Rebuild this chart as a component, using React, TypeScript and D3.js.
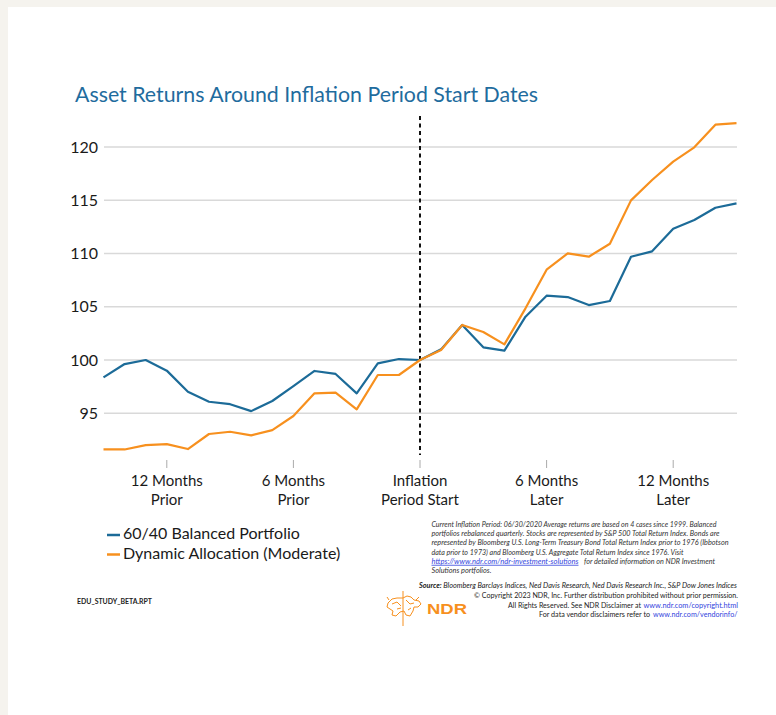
import React from "react";
import * as d3 from "d3";

const months = [-15, -14, -13, -12, -11, -10, -9, -8, -7, -6, -5, -4, -3, -2, -1, 0, 1, 2, 3, 4, 5, 6, 7, 8, 9, 10, 11, 12, 13, 14, 15];
const balanced = [98.37, 99.62, 100.0, 99.0, 97.02, 96.08, 95.85, 95.2, 96.15, 97.55, 98.97, 98.69, 96.87, 99.69, 100.09, 100.0, 101.0, 103.29, 101.19, 100.88, 104.07, 106.04, 105.91, 105.16, 105.54, 109.7, 110.2, 112.33, 113.14, 114.3, 114.7];
const dynamic = [91.6, 91.6, 92.0, 92.1, 91.64, 93.05, 93.26, 92.92, 93.42, 94.74, 96.87, 96.93, 95.37, 98.59, 98.59, 100.0, 100.94, 103.29, 102.63, 101.47, 104.85, 108.48, 110.01, 109.7, 110.92, 114.99, 116.9, 118.62, 119.97, 122.1, 122.25];
const yTicks = [95, 100, 105, 110, 115, 120];
const xTickMonths = [-12, -6, 0, 6, 12];
const xTickLabels = [["12 Months", "Prior"], ["6 Months", "Prior"], ["Inflation", "Period Start"], ["6 Months", "Later"], ["12 Months", "Later"]];
const seriesNames = ["60/40 Balanced Portfolio", "Dynamic Allocation (Moderate)"];
const title = "Asset Returns Around Inflation Period Start Dates";
const notes = [
  "Current Inflation Period: 06/30/2020 Average returns are based on 4 cases since 1999. Balanced",
  "portfolios rebalanced quarterly. Stocks are represented by S&P 500 Total Return Index. Bonds are",
  "represented by Bloomberg U.S. Long-Term Treasury Bond Total Return Index prior to 1976 (Ibbotson",
  "data prior to 1973) and Bloomberg U.S. Aggregate Total Return Index since 1976. Visit",
];
const noteLink = "https://www.ndr.com/ndr-investment-solutions";
const noteLinkRest = "for detailed information on NDR Investment";
const noteLast = "Solutions portfolios.";

const BLUE = "#1c6b98";
const ORANGE = "#f7901e";
const LINK = "#3344dd";
const FONT = "Lato, 'Open Sans', sans-serif";

export default function App() {
  const W = 776, H = 715;
  const x = d3.scaleLinear().domain([-15, 15]).range([103.5, 736.5]);
  const y = d3.scaleLinear().domain([91, 123]).range([455.85, 115.05]);
  const line = d3.line<number>().x((_, i) => x(months[i])).y((d) => y(d));
  const noteW = [285, 288, 297, 252];
  return (
    <svg width={W} height={H} style={{ position: "absolute", left: 0, top: 0 }} fontFamily={FONT}>
      <rect x={0} y={0} width={W} height={H} fill="#f5f3ee" />
      <rect x={8} y={7} width={W - 8} height={H - 7} fill="#ffffff" />
      <text x={75} y={101.5} fontSize={22} fill="#1f6c9e" textLength={463} lengthAdjust="spacingAndGlyphs">{title}</text>
      {yTicks.map((t) => (
        <g key={t}>
          <line x1={104} x2={737} y1={y(t)} y2={y(t)} stroke="#d9d9d9" strokeWidth={1.3} />
          <text x={98} y={y(t) + 5.5} fontSize={16} textAnchor="end" fill="#1a1a1a">{t}</text>
        </g>
      ))}
      {xTickMonths.map((m, i) => (
        <g key={m}>
          <line x1={x(m)} x2={x(m)} y1={460} y2={468} stroke="#aaaaaa" strokeWidth={1} />
          <text x={x(m)} y={486} fontSize={15} textAnchor="middle" fill="#1a1a1a">{xTickLabels[i][0]}</text>
          <text x={x(m)} y={504.5} fontSize={15} textAnchor="middle" fill="#1a1a1a">{xTickLabels[i][1]}</text>
        </g>
      ))}
      <line x1={x(0)} x2={x(0)} y1={116} y2={455} stroke="#111" strokeWidth={2} strokeDasharray="4,3.5" />
      <path d={line(balanced) || ""} fill="none" stroke={BLUE} strokeWidth={2.2} strokeLinejoin="round" />
      <path d={line(dynamic) || ""} fill="none" stroke={ORANGE} strokeWidth={2.2} strokeLinejoin="round" />
      {seriesNames.map((n, i) => (
        <g key={n}>
          <line x1={107} x2={120} y1={535 + i * 19.5} y2={535 + i * 19.5} stroke={i === 0 ? BLUE : ORANGE} strokeWidth={2.5} />
          <text x={123} y={539 + i * 19.5} fontSize={16} fill="#1a1a1a">{n}</text>
        </g>
      ))}
      <g fontSize={8} fontStyle="italic" fill="#333">
        {notes.map((t, i) => (
          <text key={i} x={431.5} y={527 + i * 9.2} textLength={noteW[i]} lengthAdjust="spacingAndGlyphs">{t}</text>
        ))}
        <text x={431.5} y={527 + 4 * 9.2} fill={LINK} textDecoration="underline" textLength={147} lengthAdjust="spacingAndGlyphs">{noteLink}</text>
        <text x={584} y={527 + 4 * 9.2} textLength={131} lengthAdjust="spacingAndGlyphs">{noteLinkRest}</text>
        <text x={431.5} y={527 + 5 * 9.2} textLength={60} lengthAdjust="spacingAndGlyphs">{noteLast}</text>
      </g>
      <text x={77} y={604} fontSize={7.5} fontWeight="bold" fill="#222" textLength={75} lengthAdjust="spacingAndGlyphs">EDU_STUDY_BETA.RPT</text>
      <g fontSize={7.5} fill="#222">
        <text x={419} y={588} fontStyle="italic" textLength={318} lengthAdjust="spacingAndGlyphs">
          <tspan fontWeight="bold">Source: </tspan>Bloomberg Barclays Indices, Ned Davis Research, Ned Davis Research Inc., S&amp;P Dow Jones Indices
        </text>
        <text x={474} y={598} textLength={264} lengthAdjust="spacingAndGlyphs">© Copyright 2023 NDR, Inc. Further distribution prohibited without prior permission.</text>
        <text x={508} y={607.5} textLength={133} lengthAdjust="spacingAndGlyphs">All Rights Reserved. See NDR Disclaimer at</text>
        <text x={643.5} y={607.5} fill={LINK} textLength={94.5} lengthAdjust="spacingAndGlyphs">www.ndr.com/copyright.html</text>
        <text x={539} y={617} textLength={111} lengthAdjust="spacingAndGlyphs">For data vendor disclaimers refer to</text>
        <text x={653} y={617} fill={LINK} textLength={84.5} lengthAdjust="spacingAndGlyphs">www.ndr.com/vendorinfo/</text>
      </g>
      <g stroke={ORANGE} strokeWidth={1} fill="none" strokeLinejoin="round">
        <line x1={403} x2={403} y1={591} y2={626} />
        <path d="M388,603 L392,599 L397,598 L403,598 L407,596 L411,597 L414,600 L419,601 L421,604 L418,607 L414,607 L413,611 L410,616 L406,615 L404,611 L400,612 L396,616 L392,615 L393,611 L390,609 L387,607 Z" />
        <path d="M392,604 L397,602 L401,606 M406,600 L410,604 L414,603 M397,609 L401,608 M408,610 L411,608" />
        <path d="M389,600 L387,597 M416,600 L419,597" />
      </g>
      <text x={427} y={614} fontSize={15.5} fontWeight="bold" fill={ORANGE} fontFamily="'Liberation Sans', Arial, sans-serif" textLength={40} lengthAdjust="spacingAndGlyphs">NDR</text>
    </svg>
  );
}
